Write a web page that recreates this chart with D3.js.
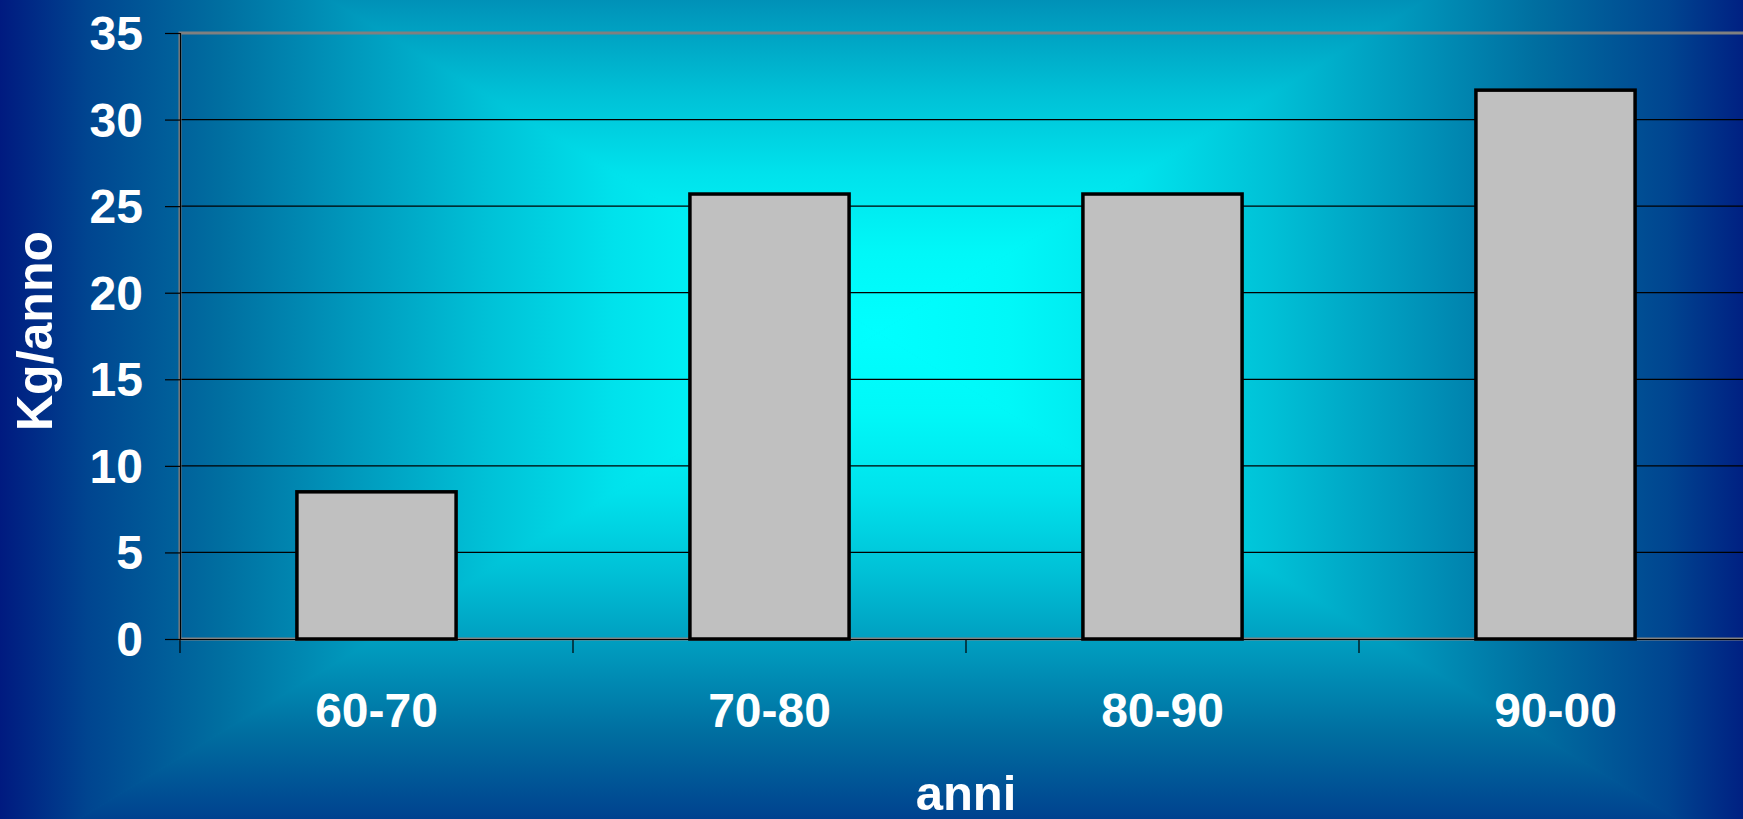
<!DOCTYPE html>
<html>
<head>
<meta charset="utf-8">
<script src="https://cdn.jsdelivr.net/npm/d3@7"></script>
<style>
html,body{margin:0;padding:0;background:#001a80;overflow:hidden;}
svg{display:block;}
text{font-family:"Liberation Sans",Arial,sans-serif;font-weight:bold;fill:#ffffff;}
</style>
</head>
<body>
<svg id="chart" width="1743" height="819"></svg>
<script>
// ---- data ----
const categories = ["60-70", "70-80", "80-90", "90-00"];
const values = [8.5, 25.7, 25.7, 31.7];
const yTicks = [0, 5, 10, 15, 20, 25, 30, 35];
const yTitle = "Kg/anno";
const xTitle = "anni";

// ---- layout ----
const W = 1743, H = 819;
const plot = {left: 180, top: 33, right: 1752, bottom: 639};
const svg = d3.select("#chart");

// ---- background: rectangular "from center" gradient ----
const bg = {cx: 878, cy: 333, hw: 878, hh: 534};
const stops = [
  [0, "#00ffff"], [0.15, "#00f8f8"], [0.3, "#00e2ec"], [0.45, "#00c0d6"],
  [0.6, "#0098bc"], [0.75, "#006ea0"], [0.9, "#004590"], [1, "#001a80"]
];
const x0 = bg.cx - bg.hw, x1 = bg.cx + bg.hw, y0 = bg.cy - bg.hh, y1 = bg.cy + bg.hh;
const defs = svg.append("defs");
const parts = [
  {id: "gT", pts: [[x0, y0], [x1, y0], [bg.cx, bg.cy]], g: [bg.cx, bg.cy, bg.cx, y0]},
  {id: "gB", pts: [[x0, y1], [x1, y1], [bg.cx, bg.cy]], g: [bg.cx, bg.cy, bg.cx, y1]},
  {id: "gL", pts: [[x0, y0], [x0, y1], [bg.cx, bg.cy]], g: [bg.cx, bg.cy, x0, bg.cy]},
  {id: "gR", pts: [[x1, y0], [x1, y1], [bg.cx, bg.cy]], g: [bg.cx, bg.cy, x1, bg.cy]}
];
parts.forEach(p => {
  const lg = defs.append("linearGradient").attr("id", p.id)
    .attr("gradientUnits", "userSpaceOnUse")
    .attr("x1", p.g[0]).attr("y1", p.g[1]).attr("x2", p.g[2]).attr("y2", p.g[3]);
  stops.forEach(s => lg.append("stop").attr("offset", s[0]).attr("stop-color", s[1]));
});
svg.append("rect").attr("width", W).attr("height", H).attr("fill", "#0098bc");
svg.append("g").selectAll("polygon").data(parts).join("polygon")
  .attr("points", d => d.pts.map(p => p.join(",")).join(" "))
  .attr("fill", d => `url(#${d.id})`)
  .attr("stroke", d => `url(#${d.id})`)
  .attr("stroke-width", 1);

// ---- scales ----
const x = d3.scaleBand().domain(categories).range([plot.left, plot.right]).padding(0);
const y = d3.scaleLinear().domain([0, 35]).range([plot.bottom, plot.top]);
const barFrac = 0.405;

// gridlines
svg.append("g").selectAll("line").data(yTicks.filter(t => t > 0 && t < 35)).join("line")
  .attr("x1", plot.left).attr("x2", W)
  .attr("y1", d => y(d)).attr("y2", d => y(d))
  .attr("stroke", "#000").attr("stroke-width", 1.3);

// plot area border (gray)
svg.append("rect")
  .attr("x", plot.left).attr("y", plot.top)
  .attr("width", plot.right - plot.left).attr("height", plot.bottom - plot.top)
  .attr("fill", "none").attr("stroke", "#808080").attr("stroke-width", 3);

// y axis
const yAxis = svg.append("g").attr("transform", `translate(${plot.left},0)`)
  .call(d3.axisLeft(y).tickValues(yTicks).tickSize(15).tickPadding(22).tickFormat(d3.format("d")));
yAxis.select(".domain").attr("stroke", "#000").attr("stroke-width", 1.2);
yAxis.selectAll(".tick line").attr("stroke", "#000").attr("stroke-width", 1.2);
yAxis.selectAll(".tick text")
  .attr("fill", "#fff").attr("dy", null).attr("y", 16.5)
  .style("font-family", '"Liberation Sans", Arial, sans-serif')
  .style("font-weight", "bold").style("font-size", "48px");

// bars
svg.append("g").selectAll("rect").data(categories.map((c, i) => ({c, v: values[i]}))).join("rect")
  .attr("x", d => x(d.c) + x.bandwidth() * (1 - barFrac) / 2)
  .attr("width", x.bandwidth() * barFrac)
  .attr("y", d => y(d.v))
  .attr("height", d => y(0) - y(d.v))
  .attr("fill", "#c0c0c0").attr("stroke", "#000").attr("stroke-width", 3.5);

// x axis
const xAxis = svg.append("g").attr("transform", `translate(0,${plot.bottom})`)
  .call(d3.axisBottom(x).tickSize(0).tickPadding(0));
xAxis.select(".domain").attr("stroke", "#000").attr("stroke-width", 1.2);
xAxis.selectAll(".tick text")
  .attr("fill", "#fff").attr("dy", null).attr("y", 88)
  .style("font-family", '"Liberation Sans", Arial, sans-serif')
  .style("font-weight", "bold").style("font-size", "48px");
// category boundary ticks
svg.append("g").selectAll("line").data(categories).join("line")
  .attr("x1", d => x(d)).attr("x2", d => x(d))
  .attr("y1", plot.bottom).attr("y2", plot.bottom + 14)
  .attr("stroke", "#000").attr("stroke-width", 1.2);

// titles
svg.append("text")
  .attr("x", (plot.left + plot.right) / 2).attr("y", 810)
  .attr("text-anchor", "middle").style("font-size", "49px")
  .text(xTitle);
svg.append("text")
  .attr("transform", "translate(52,331) rotate(-90)")
  .attr("text-anchor", "middle").style("font-size", "50px")
  .text(yTitle);
</script>
</body>
</html>
